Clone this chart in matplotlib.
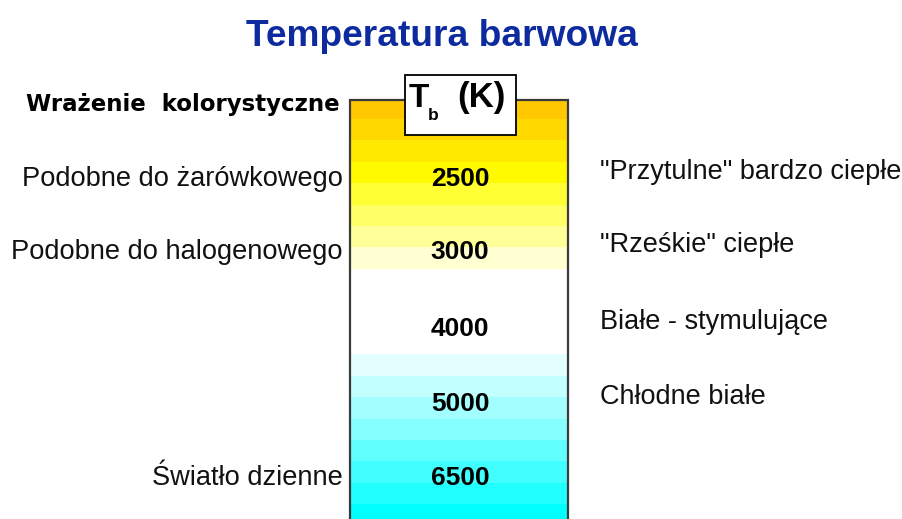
import matplotlib
matplotlib.use('Agg')
import matplotlib.pyplot as plt
from matplotlib.patches import Rectangle
import numpy as np

title = 'Temperatura barwowa'
header_left = 'Wrażenie  kolorystyczne'
temps = ['2500', '3000', '4000', '5000', '6500']
left_labels = ['Podobne do żarówkowego', 'Podobne do halogenowego', None, None, 'Światło dzienne']
right_labels = ['"Przytulne" bardzo ciepłe', '"Rześkie" ciepłe', 'Białe - stymulujące', 'Chłodne białe', None]

# one stripe per row, top to bottom
stripe_colors = ['#FFC800', '#FFD800', '#FFE900', '#FFFA00', '#FFFF33', '#FFFF66', '#FFFF99', '#FFFFD2',
                 '#FFFFFF', '#FFFFFF', '#FFFFFF', '#FFFFFF',
                 '#E3FFFF', '#C2FFFF', '#A3FFFF', '#85FFFF', '#62FFFF', '#42FFFF', '#22FFFF', '#00FFFF']

# baseline rows (in stripe units) of the temperature rows
row_y = np.array([4.13, 7.54, 11.14, 14.63, 18.10])

FONT = 'Liberation Sans'

fig = plt.figure(figsize=(9.03, 5.19), dpi=100)
ax = fig.add_axes([0, 0, 1, 1])
ax.set_xlim(0, 903)
ax.set_ylim(19.69, -4.56)
ax.axis('off')

bar_left, bar_right = 350, 568
bar_top = 0.13
n = len(stripe_colors)
bottoms = np.maximum(np.arange(n), bar_top)
heights = np.arange(1, n + 1) - bottoms
ax.bar((bar_left + bar_right) / 2, heights, bottom=bottoms, width=bar_right - bar_left,
       color=stripe_colors, edgecolor='none', zorder=1)
# frame: top, left, right
ax.plot([bar_left, bar_left, bar_right, bar_right], [20, bar_top, bar_top, 20],
        color='#3a3a3a', lw=1.6, zorder=2, solid_joinstyle='miter')

# header box
ax.add_patch(Rectangle((405, -1.06), 111, 2.81, facecolor='white', edgecolor='black', lw=1.3, zorder=3))
ax.text(409, 0.45, 'T', fontsize=24, fontweight='bold', family=FONT, va='baseline', zorder=4)
ax.text(428, 1.05, 'b', fontsize=12.5, fontweight='bold', family=FONT, va='baseline', zorder=4)
ax.text(457, 0.45, '(K)', fontsize=25, fontweight='bold', family=FONT, va='baseline', zorder=4)

ax.text(442, -2.43, title, fontsize=26.7, fontweight='bold', family=FONT,
        color='#0D2B9E', ha='center', va='baseline')
ax.text(340, 0.61, header_left, fontsize=16.5, fontweight='bold', family='DejaVu Sans',
        ha='right', va='baseline')

for y, t, l, r in zip(row_y, temps, left_labels, right_labels):
    ax.text(460, y, t, fontsize=19, fontweight='bold', family=FONT, ha='center', va='baseline', zorder=4)
    if l:
        ax.text(343, y, l, fontsize=19.6, family=FONT, color='#111111', ha='right', va='baseline')
    if r:
        ax.text(600, y - 0.33, r, fontsize=19.5, family=FONT, color='#111111', ha='left', va='baseline')

fig.savefig('out.png', dpi=100)
